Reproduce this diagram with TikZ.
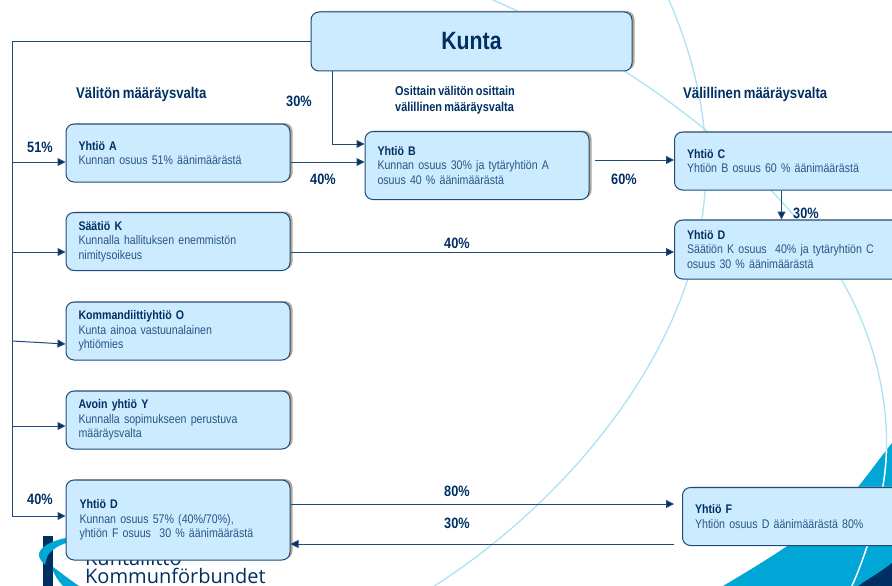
\documentclass[tikz,border=0pt]{standalone}
\usepackage{fontspec}
\setmainfont[FakeStretch=0.85,WordSpace=0.75]{Liberation Sans}
\newfontfamily\logofont{Open Sans}
\usetikzlibrary{arrows.meta,shadows}

\definecolor{navy}{HTML}{002F63}
\definecolor{bodyblue}{HTML}{2A5585}
\definecolor{boxfill}{HTML}{CCEBFF}
\definecolor{boxline}{HTML}{1F4B7A}
\definecolor{arcblue}{HTML}{ABE2F4}
\definecolor{swath}{HTML}{00A6D6}
\definecolor{shadowtan}{HTML}{B5A897}

\tikzset{
  companybox/.style={draw=boxline,fill=boxfill,line width=1pt,rounded corners=8pt,
                     inner xsep=12.5pt,inner ysep=0pt,text width=199pt,minimum height=58pt,
                     align=left,text=bodyblue,font=\fontsize{12.5pt}{14.5pt}\selectfont,
                     drop shadow={shadow xshift=2.5pt,shadow yshift=1pt,fill=shadowtan,opacity=1}},
  rightbox/.style={companybox,anchor=west,text width=235pt},
  share/.style={text=navy,font=\fontsize{15pt}{16pt}\bfseries\selectfont,inner sep=0pt},
  heading/.style={share,align=left,anchor=west,font=\fontsize{15.5pt}{16pt}\bfseries\selectfont},
  link/.style={draw=boxline,line width=1pt,-{Triangle[length=8pt,width=8pt,fill=navy]}},
}
\newcommand{\boxhead}[1]{{\bfseries\color{navy}#1}\\}

\begin{document}
\begin{tikzpicture}[x=1pt,y=-1pt,node distance=89pt]
\useasboundingbox (0,0) rectangle (892,586);

% background
\fill[swath] (723,586) .. controls (770,558) and (825,525) .. (858,487)
             .. controls (870,472) and (880,458) .. (892,443) -- (892,586) -- cycle;
\fill[navy] (858,586) .. controls (870,578) and (882,571) .. (892,563) -- (892,586) -- cycle;
\draw[arcblue,line width=1.3pt] (484,-4) .. controls (610,50) and (760,150) .. (841,279)
             .. controls (880,345) and (897,430) .. (880,500) .. controls (873,530) and (862,565) .. (850,590);
\draw[arcblue,line width=1.3pt] (669,0) .. controls (710,95) and (720,190) .. (683,293)
             .. controls (640,410) and (540,520) .. (428,590);
\begin{scope}
  \clip (723,586) .. controls (770,558) and (825,525) .. (858,487)
             .. controls (870,472) and (880,458) .. (892,443) -- (892,586) -- cycle;
  \draw[white,line width=1.3pt] (841,279)
             .. controls (880,345) and (897,430) .. (880,500) .. controls (873,530) and (862,565) .. (850,590);
\end{scope}

% logo
\fill[navy] (43,536) rectangle (53,586);
\fill[swath] (66,538) .. controls (50,541) and (38,548) .. (39,556)
             .. controls (40,560) and (43,563) .. (45,565)
             .. controls (46,560) and (47,557) .. (48,555) .. controls (52,549) and (60,545) .. (66,543) -- cycle;
\fill[swath] (53,567) .. controls (60,572) and (70,580) .. (79,586) -- (63,586)
             .. controls (58,581) and (55,575) .. (53,571) -- cycle;
\node[anchor=base west,inner sep=0pt,text=navy,font=\fontsize{20pt}{22pt}\logofont] (kuntaliitto) at (85,565) {Kuntaliitto};
\node[anchor=base west,inner sep=0pt,text=navy,font=\fontsize{20pt}{22pt}\logofont] (kommunforbundet) at (85,583.5) {Kommunförbundet};

% boxes
\node[companybox,text width=296pt,minimum height=59pt,align=center,text=navy,
      font=\fontsize{25pt}{28pt}\bfseries\selectfont] (kunta) at (471.5,41.5) {Kunta};
\node[companybox] (yhtioA) at (178,153) {\boxhead{Yhtiö A}Kunnan osuus 51\% äänimäärästä};
\node[companybox] (saatioK) [below of=yhtioA,node distance=88.5pt] {\boxhead{Säätiö K}Kunnalla hallituksen enemmistön\\nimitysoikeus};
\node[companybox] (kommO) [below of=saatioK,node distance=89.5pt] {\boxhead{Kommandiittiyhtiö O}Kunta ainoa vastuunalainen\\yhtiömies};
\node[companybox] (avoinY) [below of=kommO] {\boxhead{Avoin yhtiö Y}Kunnalla sopimukseen perustuva\\määräysvalta};
\node[companybox,minimum height=80pt] (yhtioD) [below of=avoinY,node distance=100pt] {\boxhead{\hspace{1pt}Yhtiö D}\hspace{1pt}Kunnan osuus 57\% (40\%/70\%),\\\hspace{1pt}yhtiön F osuus~~30 \% äänimäärästä};
\node[companybox,minimum height=68pt] (yhtioB) at (477,165.5) {\boxhead{Yhtiö B}Kunnan osuus 30\% ja tytäryhtiön A\\osuus 40 \% äänimäärästä};
\node[rightbox] (yhtioC) at (674,161) {\boxhead{Yhtiö C}Yhtiön B osuus 60 \% äänimäärästä};
\node[rightbox,minimum height=59pt] (yhtioDr) at (674,249.5) {\boxhead{Yhtiö D}Säätiön K osuus~~40\% ja tytäryhtiön C\\osuus 30 \% äänimäärästä};
\node[rightbox] (yhtioF) at (682,516.5) {\boxhead{Yhtiö F}Yhtiön osuus D äänimäärästä 80\%};

% trunk on the left
\coordinate (trunkA) at (12,162);
\coordinate (trunkK) at (12,252);
\coordinate (trunkO) at (12,341);
\coordinate (trunkY) at (12,426);
\coordinate (trunkD) at (12,516);

\draw[link] (kunta.west) -| (trunkD) -- ([yshift=4pt]yhtioD.west);
\draw[link] (trunkA) -- ([yshift=-9pt]yhtioA.west);
\draw[link] (trunkK) -- ([yshift=-10.5pt]saatioK.west);
\draw[link] (trunkO) -- ([yshift=-13pt]kommO.west);
\draw[link] (trunkY) -- ([yshift=-6pt]avoinY.west);

\draw[link] ([xshift=-139.5pt]kunta.south) |- ([yshift=21.5pt]yhtioB.west);
\draw[link] ([yshift=-9pt]yhtioA.east) -- ([yshift=3.5pt]yhtioB.west);
\draw[link,shorten <=5pt] ([yshift=5.5pt]yhtioB.east) -- ([yshift=1pt]yhtioC.west);
\draw[link] ([yshift=-10.5pt]saatioK.east) -- ([yshift=-2.5pt]yhtioDr.west);
\draw[link] ([xshift=-23pt]yhtioC.south) -- ([xshift=-23pt]yhtioDr.north);
\draw[link,shorten >=8pt] ([yshift=16pt]yhtioD.east) -- ([yshift=12.5pt]yhtioF.west);
\draw[link,shorten <=8pt] ([yshift=-27.5pt]yhtioF.west) -- ([yshift=-24pt]yhtioD.east);

% labels
\node[share] (s51) at (40,147) {51\%};
\node[share] (s30k) at (299,101) {30\%};
\node[share] (s40a) at (323,179) {40\%};
\node[share] (s60) at (624,179) {60\%};
\node[share] (s30c) at (806,213) {30\%};
\node[share] (s40k) at (457,243) {40\%};
\node[share] (s80) at (457,491) {80\%};
\node[share] (s30d) at (457,523) {30\%};
\node[share] (s40d) at (40,499) {40\%};

\node[heading] (valiton) at (76,94) {Välitön määräysvalta};
\node[heading] (valillinen) at (683,94) {Välillinen määräysvalta};
\node[heading,font=\fontsize{12.9pt}{16pt}\bfseries\selectfont] (osittain) at (395,100) {Osittain välitön osittain\\välillinen määräysvalta};
\end{tikzpicture}
\end{document}
